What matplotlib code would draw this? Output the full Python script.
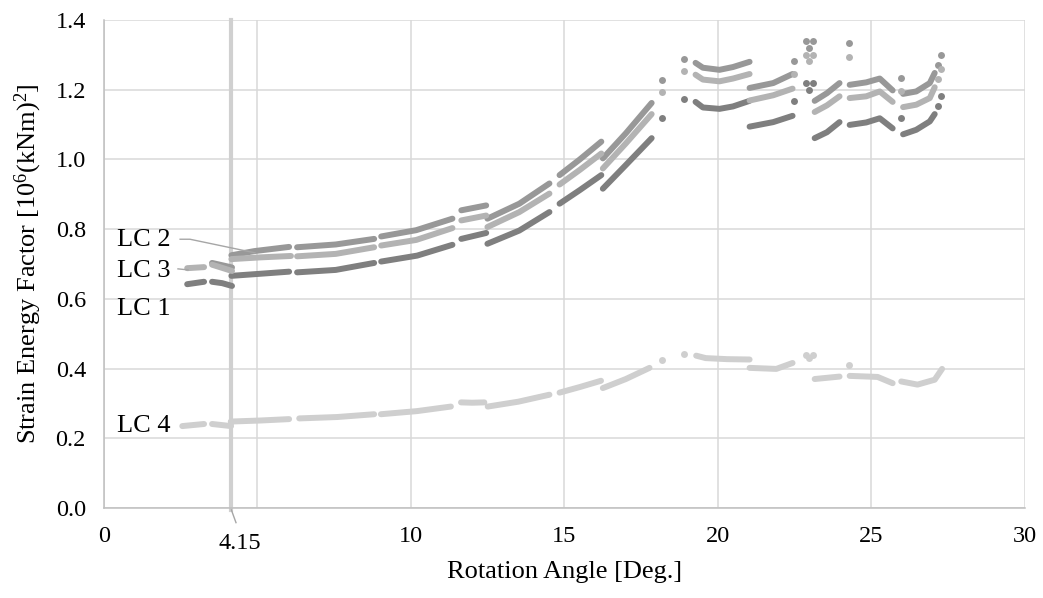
import numpy as np
import matplotlib
matplotlib.use("Agg")
import matplotlib.pyplot as plt

plt.rcParams['font.family'] = ['Liberation Serif', 'DejaVu Serif']
plt.rcParams['mathtext.fontset'] = 'custom'
plt.rcParams['mathtext.rm'] = 'Liberation Serif'

nan = np.nan

# dashed segments of each load case, separated by nan
lc1_x = [2.71, 3.26, nan, 3.52, 3.85, 4.17, nan, 4.15, 5.1, 6.03, nan, 6.29, 7.55, 8.80, nan,
         9.03, 10.2, 11.35, nan, 11.64, 12.45, nan, 12.49, 13.53, 14.51, nan, 14.84, 15.5, 16.2, nan,
         16.25, 17.0, 17.84, nan, 19.27, 19.51, 20.05, 20.49, 21.03, nan, 21.03, 21.8, 22.43, nan,
         23.15, 23.55, 23.96, nan, 24.29, 24.83, 25.27, 25.69, nan, 26.03, 26.46, 26.90, 27.06]
lc1_y = [0.642, 0.649, nan, 0.649, 0.645, 0.637, nan, 0.666, 0.672, 0.678, nan, 0.676, 0.683, 0.703, nan,
         0.707, 0.724, 0.755, nan, 0.772, 0.789, nan, 0.758, 0.796, 0.849, nan, 0.873, 0.912, 0.955, nan,
         0.916, 0.984, 1.061, nan, 1.165, 1.149, 1.145, 1.152, 1.168, nan, 1.094, 1.107, 1.125, nan,
         1.061, 1.078, 1.107, nan, 1.099, 1.106, 1.118, 1.089, nan, 1.072, 1.085, 1.109, 1.130]
lc1_dot_x = [18.18, 18.88, 22.47, 22.88, 23.09, 22.98, 25.97, 27.17, 27.28]
lc1_dot_y = [1.118, 1.174, 1.167, 1.219, 1.219, 1.200, 1.120, 1.152, 1.181]

lc2_x = [3.52, 4.17, nan, 4.15, 4.9, 6.03, nan, 6.29, 7.55, 8.80, nan,
         9.03, 10.17, 11.35, nan, 11.64, 12.45, nan, 12.49, 13.53, 14.51, nan, 14.84, 15.5, 16.2, nan,
         16.25, 17.0, 17.84, nan, 19.27, 19.51, 20.05, 20.49, 21.03, nan, 21.03, 21.8, 22.43, nan,
         23.15, 23.55, 23.96, nan, 24.29, 24.83, 25.27, 25.69, nan, 26.03, 26.46, 26.90, 27.06]
lc2_y = [0.703, 0.690, nan, 0.725, 0.737, 0.749, nan, 0.748, 0.756, 0.772, nan,
         0.779, 0.797, 0.830, nan, 0.854, 0.868, nan, 0.830, 0.873, 0.931, nan, 0.955, 1.000, 1.051, nan,
         1.003, 1.075, 1.162, nan, 1.277, 1.263, 1.257, 1.265, 1.280, nan, 1.205, 1.219, 1.245, nan,
         1.168, 1.190, 1.219, nan, 1.214, 1.221, 1.232, 1.198, nan, 1.188, 1.195, 1.219, 1.248]
lc2_dot_x = [18.18, 18.88, 22.47, 22.88, 23.09, 22.98, 24.27, 25.97, 27.17, 27.28]
lc2_dot_y = [1.229, 1.287, 1.282, 1.340, 1.340, 1.320, 1.333, 1.234, 1.270, 1.299]

lc3_x = [2.71, 3.26, nan, 3.52, 4.17, nan, 4.15, 5.1, 6.09, nan, 6.29, 7.55, 8.80, nan,
         9.03, 10.17, 11.35, nan, 11.64, 12.45, nan, 12.49, 13.53, 14.51, nan, 14.84, 15.5, 16.2, nan,
         16.25, 17.0, 17.84, nan, 19.27, 19.51, 20.05, 20.49, 21.03, nan, 21.03, 21.8, 22.43, nan,
         23.15, 23.55, 23.96, nan, 24.29, 24.83, 25.27, 25.69, nan, 26.03, 26.46, 26.90, 27.06]
lc3_y = [0.688, 0.691, nan, 0.698, 0.680, nan, 0.714, 0.719, 0.723, nan, 0.722, 0.729, 0.748, nan,
         0.753, 0.769, 0.803, nan, 0.825, 0.839, nan, 0.806, 0.849, 0.902, nan, 0.928, 0.970, 1.017, nan,
         0.974, 1.046, 1.130, nan, 1.243, 1.229, 1.224, 1.232, 1.245, nan, 1.169, 1.184, 1.203, nan,
         1.136, 1.155, 1.181, nan, 1.176, 1.181, 1.195, 1.165, nan, 1.150, 1.157, 1.176, 1.207]
lc3_dot_x = [18.18, 18.88, 22.47, 22.88, 23.09, 22.98, 24.27, 25.97, 27.17, 27.28]
lc3_dot_y = [1.193, 1.253, 1.245, 1.300, 1.300, 1.282, 1.293, 1.197, 1.231, 1.260]

lc4_x = [2.55, 3.26, nan, 3.52, 4.14, nan, 4.13, 5.1, 6.03, nan, 6.36, 7.6, 8.8, nan,
         9.02, 10.2, 11.3, nan, 11.63, 12.0, 12.39, nan, 12.5, 13.5, 14.51, nan, 14.84, 15.5, 16.19, nan,
         16.25, 17.0, 17.77, nan, 19.29, 19.6, 20.3, 21.03, nan, 21.03, 21.9, 22.43, nan,
         23.15, 23.96, nan, 24.29, 25.2, 25.69, nan, 25.97, 26.5, 27.06, 27.3]
lc4_y = [0.235, 0.241, nan, 0.241, 0.235, nan, 0.248, 0.251, 0.255, nan, 0.257, 0.261, 0.269, nan,
         0.269, 0.278, 0.291, nan, 0.303, 0.302, 0.303, nan, 0.291, 0.305, 0.325, nan, 0.331, 0.347, 0.365, nan,
         0.344, 0.370, 0.402, nan, 0.437, 0.430, 0.427, 0.426, nan, 0.402, 0.399, 0.416, nan,
         0.370, 0.377, nan, 0.379, 0.376, 0.358, nan, 0.363, 0.354, 0.368, 0.399]
lc4_dot_x = [18.18, 18.88, 22.88, 23.09, 22.98, 24.27]
lc4_dot_y = [0.426, 0.442, 0.440, 0.440, 0.431, 0.411]

limit_angle = 4.15

series = [
    ('LC 1', lc1_x, lc1_y, lc1_dot_x, lc1_dot_y, '#7f7f7f'),
    ('LC 2', lc2_x, lc2_y, lc2_dot_x, lc2_dot_y, '#989898'),
    ('LC 3', lc3_x, lc3_y, lc3_dot_x, lc3_dot_y, '#b3b3b3'),
    ('LC 4', lc4_x, lc4_y, lc4_dot_x, lc4_dot_y, '#cfcfcf'),
]

fig = plt.figure(figsize=(10.43, 5.98), dpi=100)
ax = fig.add_axes([0.0997, 0.1505, 0.8830, 0.8161])

ax.set_xlim(0, 30)
ax.set_ylim(0, 1.4)
ax.set_xticks([0, 5, 10, 15, 20, 25, 30])
ax.set_xticklabels(['0', '', '10', '15', '20', '25', '30'])
ax.set_yticks(np.arange(0, 1.41, 0.2))
ax.set_yticklabels([f'{v:.1f}' for v in np.arange(0, 1.41, 0.2)])
ax.grid(True, color='#d9d9d9', linewidth=1.1)
ax.set_axisbelow(True)
for s in ['top', 'right']:
    ax.spines[s].set_visible(False)
for s in ['left', 'bottom']:
    ax.spines[s].set_color('#bfbfbf')
    ax.spines[s].set_linewidth(1.1)
ax.tick_params(length=0, labelsize=17.5, pad=13)

# vertical marker at limit angle
ax.axvline(limit_angle, ymin=-0.005, ymax=1, color='#d0d0d0', linewidth=3, clip_on=False, zorder=1)

for name, xs, ys, dx, dy, col in series:
    ax.plot(xs, ys, color=col, linewidth=4.3, solid_capstyle='round', zorder=3)
    ax.plot(dx, dy, 'o', color=col, markersize=5, markeredgewidth=0, zorder=3)

# series labels
ax.text(0.42, 0.770, 'LC 2', fontsize=19, va='center', ha='left')
ax.text(0.42, 0.680, 'LC 3', fontsize=19, va='center', ha='left')
ax.text(0.42, 0.571, 'LC 1', fontsize=19, va='center', ha='left')
ax.text(0.42, 0.235, 'LC 4', fontsize=19, va='center', ha='left')
ax.plot([2.48, 2.80, 4.92], [0.771, 0.771, 0.732], color='#a6a6a6', linewidth=1, zorder=4)
ax.plot([2.41, 2.74], [0.686, 0.683], color='#a6a6a6', linewidth=1, zorder=4)

# limit angle label
trans = ax.get_xaxis_transform()
ax.plot([limit_angle, 4.30], [-0.004, -0.030], color='#a6a6a6', linewidth=1,
        transform=trans, clip_on=False)
ax.text(4.43, -0.072, '4.15', fontsize=17.5, ha='center', va='center', transform=trans)

ax.set_xlabel('Rotation Angle [Deg.]', fontsize=19, labelpad=10)
ax.set_ylabel('Strain Energy Factor [$\\mathregular{10^6(kNm)^2}$]', fontsize=19, labelpad=8)

fig.savefig('out.png', dpi=100)
